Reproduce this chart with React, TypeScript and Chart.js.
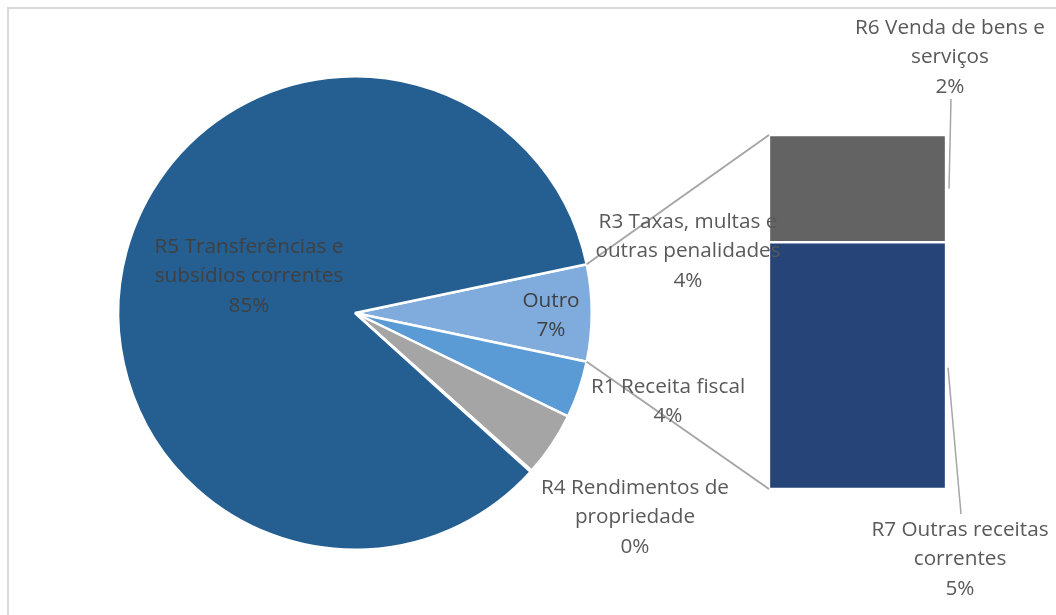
import React, { useEffect, useRef } from "react";
import { Chart, registerables } from "chart.js";

Chart.register(...registerables);

// ---- Data ----
const pieCategories = [
  "R1 Receita fiscal",
  "R3 Taxas, multas e outras penalidades",
  "R4 Rendimentos de propriedade",
  "R5 Transferências e subsídios correntes",
];
const pieValues = [3.9, 4.4, 0.1, 85.0];
const barCategories = ["R7 Outras receitas correntes", "R6 Venda de bens e serviços"];
const barValues = [4.6, 2.0];
const otherLabel = "Outro";

// ---- Styles / layout ----
const W = 1056;
const H = 615;
const FONT_FAMILY = "'Open Sans'";
const FIT_TEXT = "R4 Rendimentos de";
const FIT_WIDTH = 188;
const LINE_H = 29.5;
const TEXT = "#595959";
const TEXT_DARK = "#404040";
const pieColors = ["#7FACDC", "#5B9BD5", "#A5A5A5", "#A5A5A5", "#255E91"];
const barColors = ["#264478", "#636363"];
const LINE_COLOR = "#A6A6A6";

// label lines (wrapping) and anchor (center x, first line center y)
const labelLayout: Record<string, { lines: string[]; x: number; y: number; color: string }> = {
  [otherLabel]: { lines: ["Outro"], x: 551, y: 301, color: TEXT_DARK },
  "R1 Receita fiscal": { lines: ["R1 Receita fiscal"], x: 668, y: 387, color: TEXT },
  "R3 Taxas, multas e outras penalidades": { lines: ["R3 Taxas, multas e", "outras penalidades"], x: 688, y: 222, color: TEXT },
  "R4 Rendimentos de propriedade": { lines: ["R4 Rendimentos de", "propriedade"], x: 635, y: 488, color: TEXT },
  "R5 Transferências e subsídios correntes": { lines: ["R5 Transferências e", "subsídios correntes"], x: 249, y: 247, color: TEXT_DARK },
  "R6 Venda de bens e serviços": { lines: ["R6 Venda de bens e", "serviços"], x: 950, y: 28, color: TEXT },
  "R7 Outras receitas correntes": { lines: ["R7 Outras receitas", "correntes"], x: 960, y: 530, color: TEXT },
};

export default function App() {
  const pieRef = useRef<HTMLCanvasElement | null>(null);
  const barRef = useRef<HTMLCanvasElement | null>(null);

  useEffect(() => {
    if (!pieRef.current || !barRef.current) return;
    const otherValue = barValues.reduce((a, b) => a + b, 0);
    const allPieLabels = [otherLabel, ...pieCategories];
    const allPieValues = [otherValue, ...pieValues];
    const total = allPieValues.reduce((a, b) => a + b, 0);
    const pct = (v: number) => `${Math.round((v / total) * 100)}%`;

    const pie = new Chart(pieRef.current, {
      type: "pie",
      data: {
        labels: allPieLabels,
        datasets: [
          {
            data: allPieValues,
            backgroundColor: pieColors,
            borderColor: "#FFFFFF",
            borderWidth: 2.5,
          },
        ],
      },
      options: {
        animation: false,
        responsive: false,
        rotation: 90 - (180 * otherValue) / total,
        layout: { padding: { left: 117, right: 463, top: 75, bottom: 64 } },
        plugins: { legend: { display: false }, tooltip: { enabled: false } },
      },
    });

    const drawLabel = (ctx: CanvasRenderingContext2D, key: string, value: number) => {
      const l = labelLayout[key];
      if (!l) return;
      ctx.fillStyle = l.color;
      const lines = [...l.lines, pct(value)];
      lines.forEach((t, i) => ctx.fillText(t, l.x, l.y + i * LINE_H));
    };

    const overlay = {
      id: "overlay",
      afterDraw(chart: any) {
        const ctx: CanvasRenderingContext2D = chart.ctx;
        const arcs = pie.getDatasetMeta(0).data as any[];
        const other = arcs[0];
        const R = other.outerRadius;
        const bars0 = chart.getDatasetMeta(0).data[0] as any; // R7 bottom
        const bars1 = chart.getDatasetMeta(1).data[0] as any; // R6 top
        const bw = bars0.width;
        const left = bars0.x - bw / 2;
        const right = bars0.x + bw / 2;
        ctx.save();
        ctx.strokeStyle = LINE_COLOR;
        ctx.lineWidth = 2;
        ctx.beginPath();
        ctx.moveTo(other.x + R * Math.cos(other.startAngle), other.y + R * Math.sin(other.startAngle));
        ctx.lineTo(left, bars1.y);
        ctx.moveTo(other.x + R * Math.cos(other.endAngle), other.y + R * Math.sin(other.endAngle));
        ctx.lineTo(left, bars0.base);
        ctx.stroke();
        // leader lines
        const l6 = labelLayout[barCategories[1]];
        const l7 = labelLayout[barCategories[0]];
        ctx.lineWidth = 1.5;
        ctx.beginPath();
        ctx.moveTo(right + 3, (bars1.y + bars1.base) / 2);
        ctx.lineTo(l6.x + 1, l6.y + LINE_H * 2 + 12);
        ctx.moveTo(right + 2, (bars0.y + bars0.base) / 2 + 2);
        ctx.lineTo(l7.x + 1, l7.y - 16);
        ctx.stroke();

        ctx.font = `20px ${FONT_FAMILY}`;
        const size = (20 * FIT_WIDTH) / ctx.measureText(FIT_TEXT).width;
        ctx.font = `${size.toFixed(2)}px ${FONT_FAMILY}`;
        ctx.textAlign = "center";
        ctx.textBaseline = "middle";
        allPieLabels.forEach((k, i) => drawLabel(ctx, k, allPieValues[i]));
        barCategories.forEach((k, i) => drawLabel(ctx, k, barValues[i]));
        ctx.restore();
      },
    };

    const bar = new Chart(barRef.current, {
      type: "bar",
      data: {
        labels: [otherLabel],
        datasets: barCategories.map((c, i) => ({
          label: c,
          data: [barValues[i]],
          backgroundColor: barColors[i],
          borderColor: "#FFFFFF",
          borderWidth: 1.5,
          borderSkipped: false,
          barPercentage: 1,
          categoryPercentage: 1,
        })),
      },
      options: {
        animation: false,
        responsive: false,
        layout: { padding: { left: 769, right: W - 946, top: 135, bottom: H - 489 } },
        scales: {
          x: { stacked: true, display: false },
          y: { stacked: true, display: false, min: 0, max: otherValue },
        },
        plugins: { legend: { display: false }, tooltip: { enabled: false } },
      },
      plugins: [overlay],
    });

    const fonts: any = (document as any).fonts;
    if (fonts && fonts.load) {
      fonts.load(`20px ${FONT_FAMILY}`).then(() => bar.draw()).catch(() => {});
    }

    return () => {
      bar.destroy();
      pie.destroy();
    };
  }, []);

  return (
    <div
      style={{
        position: "fixed",
        left: 0,
        top: 0,
        width: W,
        height: H,
        overflow: "hidden",
        background: "#FFFFFF",
      }}
    >
      <div
        style={{
          position: "absolute",
          left: 7,
          top: 7,
          width: 1200,
          height: 800,
          border: "2px solid #D9D9D9",
        }}
      />
      <canvas ref={pieRef} width={W} height={H} style={{ position: "absolute", left: 0, top: 0 }} />
      <canvas ref={barRef} width={W} height={H} style={{ position: "absolute", left: 0, top: 0 }} />
    </div>
  );
}
